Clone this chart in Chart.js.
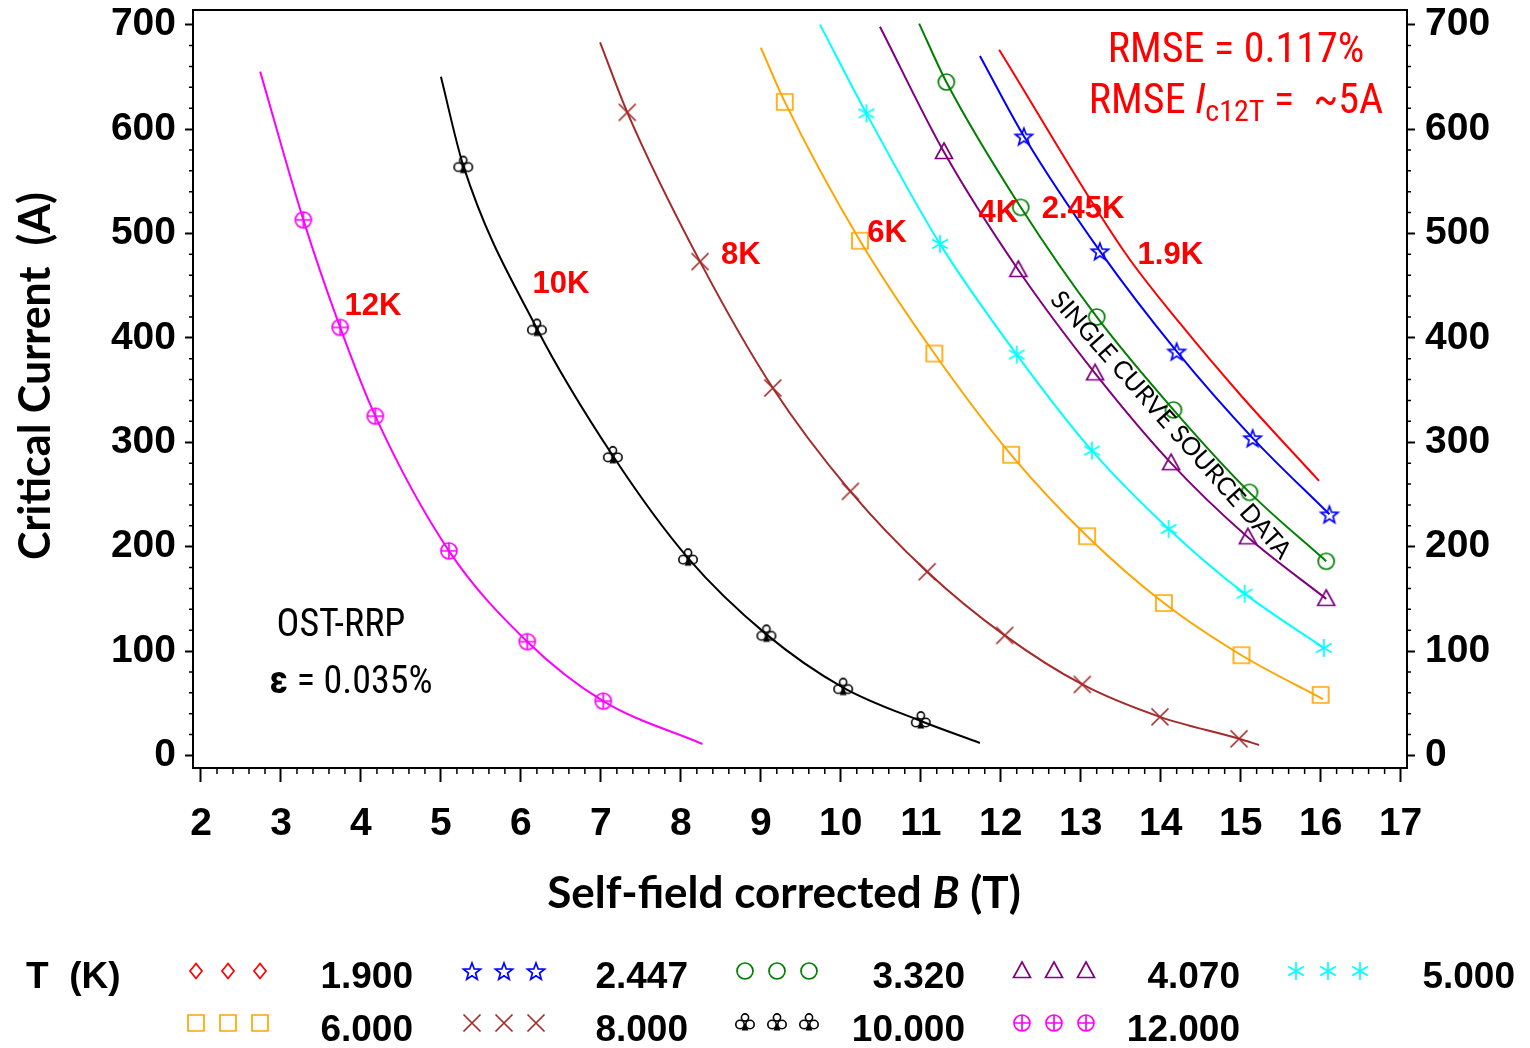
<!DOCTYPE html>
<html>
<head>
<meta charset="utf-8">
<title>Critical current vs self-field corrected B</title>
<script src="https://cdn.jsdelivr.net/npm/chart.js@4.4.1/dist/chart.umd.min.js"></script>
<style>
  html, body { margin: 0; padding: 0; background: #fff; }
  #wrap { position: relative; width: 1530px; height: 1048px; }
</style>
</head>
<body>
<div id="wrap"><canvas id="myChart" width="1530" height="1048"></canvas></div>
<script>
// Axis ticks
var xTicks = [2, 3, 4, 5, 6, 7, 8, 9, 10, 11, 12, 13, 14, 15, 16, 17];
var yTicks = [0, 100, 200, 300, 400, 500, 600, 700];

// Legend labels: T (K)
var tempLabels = ['1.900', '2.447', '3.320', '4.070', '5.000', '6.000', '8.000', '10.000', '12.000'];

// Measured points: self-field corrected B (T) and Ic (A)
var b2447 = [12.29, 13.24, 14.20, 15.15, 16.11];
var ic2447 = [593, 483, 387, 304, 231];
var b3320 = [11.32, 12.25, 13.20, 14.16, 15.11, 16.07];
var ic3320 = [645, 525, 420, 331, 252, 186];
var b4070 = [11.29, 12.22, 13.18, 14.13, 15.09, 16.07];
var ic4070 = [578, 465, 366, 280, 209, 150];
var b5 = [10.32, 11.24, 12.20, 13.14, 14.10, 15.05, 16.04];
var ic5 = [615, 490, 384, 292, 217, 155, 103];
var b6 = [9.30, 10.24, 11.17, 12.13, 13.08, 14.04, 15.01, 16.00];
var ic6 = [626, 493, 385, 288, 210, 146, 96, 58];
var b8 = [7.33, 8.24, 9.15, 10.12, 11.08, 12.05, 13.02, 13.99, 14.98];
var ic8 = [616, 473, 352, 253, 176, 115, 68, 37, 16];
var b10 = [5.28, 6.20, 7.15, 8.09, 9.07, 10.03, 11.00];
var ic10 = [565, 409, 287, 189, 116, 65, 33];
var b12 = [3.28, 3.74, 4.18, 5.10, 6.08, 7.03];
var ic12 = [513, 410, 325, 196, 109, 52];

// Fitted curves
var fitB1900 = [11.98, 13.55, 14.24, 14.99, 15.98];
var fitI1900 = [676, 482, 414, 346, 263];
var fitB2447 = [11.74, 12.29, 13.24, 14.20, 15.15, 16.11];
var fitI2447 = [670, 593, 483, 387, 304, 231];
var fitB3320 = [10.98, 11.32, 12.25, 13.20, 14.16, 15.11, 16.07];
var fitI3320 = [701, 645, 525, 420, 331, 252, 186];
var fitB4070 = [10.49, 11.29, 12.22, 13.18, 14.13, 15.09, 16.07];
var fitI4070 = [698, 578, 465, 366, 280, 209, 150];
var fitB5 = [9.74, 10.32, 11.24, 12.20, 13.14, 14.10, 15.05, 16.04];
var fitI5 = [700, 615, 490, 384, 292, 217, 155, 103];
var fitB6 = [9.00, 9.30, 10.24, 11.17, 12.13, 13.08, 14.04, 15.01, 16.03];
var fitI6 = [678, 626, 493, 385, 288, 210, 146, 96, 54];
var fitB8 = [6.99, 7.33, 8.24, 9.15, 10.12, 11.08, 12.05, 13.02, 13.99, 14.98, 15.23];
var fitI8 = [683, 616, 473, 352, 253, 176, 115, 68, 37, 16, 10];
var fitB10 = [5.00, 5.28, 6.20, 7.15, 8.09, 9.07, 10.03, 11.00, 11.74];
var fitI10 = [650, 565, 409, 287, 189, 116, 65, 33, 12];
var fitB12 = [2.74, 3.28, 3.74, 4.18, 5.10, 6.08, 7.03, 8.27];
var fitI12 = [655, 513, 410, 325, 196, 109, 52, 11];

// Curve labels
var curveLabels = ['12K', '10K', '8K', '6K', '4K', '2.45K', '1.9K'];
var curveLabelB = [4.15, 6.50, 8.75, 10.58, 11.97, 13.03, 14.12];
var curveLabelI = [430, 451, 479, 500, 519, 523, 479];

var tickFont = '"Liberation Sans", Arial, sans-serif';
var narrowFont = '"Liberation Sans Narrow", "Roboto Condensed", Roboto, sans-serif';
var titleFont = 'Lato, "Open Sans", sans-serif';

function pts(bs, is) {
    return bs.map(function (b, i) { return { x: b, y: is[i] }; });
}

// Small canvases used as point styles
function makeMarker(kind, color) {
    var c = document.createElement('canvas');
    c.width = 26; c.height = 26;
    var g = c.getContext('2d');
    g.translate(13, 13);
    g.strokeStyle = color; g.fillStyle = color; g.lineWidth = 1.7;
    g.beginPath();
    switch (kind) {
        case 'diamond':
            g.moveTo(0, -7.5); g.lineTo(6, 0); g.lineTo(0, 7.5); g.lineTo(-6, 0); g.closePath(); g.stroke();
            break;
        case 'star':
            for (var i = 0; i < 10; i++) {
                var r = i % 2 ? 3.8 : 9;
                var a = -Math.PI / 2 + i * Math.PI / 5;
                if (i) g.lineTo(r * Math.cos(a), r * Math.sin(a) + 1); else g.moveTo(r * Math.cos(a), r * Math.sin(a) + 1);
            }
            g.closePath(); g.stroke();
            break;
        case 'circle':
            g.arc(0, 0, 8, 0, 2 * Math.PI); g.stroke();
            break;
        case 'triangle':
            g.moveTo(0, -9); g.lineTo(8.5, 6.5); g.lineTo(-8.5, 6.5); g.closePath(); g.stroke();
            break;
        case 'asterisk':
            for (var k = 0; k < 3; k++) {
                var an = Math.PI / 2 + k * Math.PI / 3;
                g.moveTo(-9 * Math.cos(an), -9 * Math.sin(an)); g.lineTo(9 * Math.cos(an), 9 * Math.sin(an));
            }
            g.stroke();
            break;
        case 'square':
            g.rect(-8, -8, 16, 16); g.stroke();
            break;
        case 'cross':
            g.moveTo(-8.5, -8.5); g.lineTo(8.5, 8.5); g.moveTo(8.5, -8.5); g.lineTo(-8.5, 8.5); g.stroke();
            break;
        case 'club':
            g.lineWidth = 1.6;
            g.arc(0, -5.5, 3.6, 0, 2 * Math.PI); g.stroke();
            g.beginPath(); g.arc(-5, 1.5, 4.2, 0, 2 * Math.PI); g.stroke();
            g.beginPath(); g.arc(5, 1.5, 4.2, 0, 2 * Math.PI); g.stroke();
            g.beginPath(); g.moveTo(0, 0); g.lineTo(-3.5, 7.5); g.lineTo(3.5, 7.5); g.closePath(); g.fill();
            break;
        case 'circplus':
            g.arc(0, 0, 8, 0, 2 * Math.PI);
            g.moveTo(-8, 0); g.lineTo(8, 0); g.moveTo(0, -8); g.lineTo(0, 8); g.stroke();
            break;
    }
    return c;
}

var seriesCfg = [
    { color: '#ff0000', marker: 'diamond', fb: fitB1900, fi: fitI1900, b: [], ic: [] },
    { color: '#0000ff', marker: 'star', fb: fitB2447, fi: fitI2447, b: b2447, ic: ic2447 },
    { color: '#008000', marker: 'circle', fb: fitB3320, fi: fitI3320, b: b3320, ic: ic3320 },
    { color: '#800080', marker: 'triangle', fb: fitB4070, fi: fitI4070, b: b4070, ic: ic4070 },
    { color: '#00ffff', marker: 'asterisk', fb: fitB5, fi: fitI5, b: b5, ic: ic5 },
    { color: '#ffa500', marker: 'square', fb: fitB6, fi: fitI6, b: b6, ic: ic6 },
    { color: '#a52a2a', marker: 'cross', fb: fitB8, fi: fitI8, b: b8, ic: ic8 },
    { color: '#000000', marker: 'club', fb: fitB10, fi: fitI10, b: b10, ic: ic10 },
    { color: '#ff00ff', marker: 'circplus', fb: fitB12, fi: fitI12, b: b12, ic: ic12 }
];

var datasets = [];
seriesCfg.forEach(function (s, i) {
    s.img = makeMarker(s.marker, s.color);
    datasets.push({
        label: tempLabels[i] + ' fit',
        data: pts(s.fb, s.fi),
        showLine: true,
        borderColor: s.color,
        borderWidth: 2,
        pointRadius: 0,
        cubicInterpolationMode: 'monotone',
        order: 1
    });
    datasets.push({
        label: tempLabels[i],
        data: pts(s.b, s.ic),
        showLine: false,
        pointStyle: s.img,
        pointRadius: 9,
        order: 0
    });
});

// Draw a line made of differently styled pieces
function drawRuns(ctx, runs, x, y, align) {
    var total = 0;
    runs.forEach(function (r) { ctx.font = r.font; r.w = ctx.measureText(r.text).width; total += r.w; });
    var cx = align === 'center' ? x - total / 2 : x;
    ctx.textAlign = 'left';
    runs.forEach(function (r) {
        ctx.font = r.font;
        ctx.fillText(r.text, cx, y + (r.dy || 0));
        cx += r.w;
    });
}

var decor = {
    id: 'decor',
    afterDraw: function (chart) {
        var ctx = chart.ctx, a = chart.chartArea;
        var xs = chart.scales.x, ys = chart.scales.y;
        ctx.save();

        // top border of the box
        ctx.strokeStyle = '#000';
        ctx.lineWidth = 2;
        ctx.beginPath();
        ctx.moveTo(a.left - 1, a.top); ctx.lineTo(a.right + 1, a.top);
        ctx.stroke();

        // minor ticks
        ctx.lineWidth = 1.5;
        ctx.beginPath();
        for (var i = 0; i <= 75; i++) {
            if (i % 5 === 0) continue;
            var px = xs.getPixelForValue(2 + i * 0.2);
            ctx.moveTo(px, a.bottom); ctx.lineTo(px, a.bottom + 6);
        }
        for (var j = 0; j <= 35; j++) {
            if (j % 5 === 0) continue;
            var py = ys.getPixelForValue(j * 20);
            ctx.moveTo(a.left, py); ctx.lineTo(a.left - 4, py);
            ctx.moveTo(a.right, py); ctx.lineTo(a.right + 4, py);
        }
        ctx.stroke();

        // curve labels
        ctx.fillStyle = '#ff0000';
        ctx.textBaseline = 'middle';
        ctx.textAlign = 'center';
        ctx.font = 'bold 31px ' + tickFont;
        curveLabels.forEach(function (t, k) {
            ctx.fillText(t, xs.getPixelForValue(curveLabelB[k]), ys.getPixelForValue(curveLabelI[k]));
        });

        // RMSE notes
        ctx.font = '42px ' + narrowFont;
        ctx.fillText('RMSE = 0.117%', 1236, 51);
        drawRuns(ctx, [
            { text: 'RMSE ', font: '42px ' + narrowFont },
            { text: 'I', font: 'italic 42px ' + narrowFont },
            { text: 'c12T', font: '30px ' + narrowFont, dy: 11 },
            { text: ' =  ~5A', font: '42px ' + narrowFont }
        ], 1236, 102, 'center');

        // conductor note
        ctx.fillStyle = '#000';
        ctx.textAlign = 'center';
        ctx.font = '38px ' + narrowFont;
        ctx.fillText('OST-RRP', 341, 626);
        drawRuns(ctx, [
            { text: '\u03b5', font: 'bold 38px ' + narrowFont },
            { text: ' = 0.035%', font: '38px ' + narrowFont }
        ], 351, 683, 'center');

        // rotated note along the curves
        ctx.save();
        ctx.translate(1171, 425);
        ctx.rotate(48.4 * Math.PI / 180);
        ctx.textAlign = 'center';
        ctx.font = '25px ' + titleFont;
        ctx.fillText('SINGLE CURVE SOURCE DATA', 0, 0);
        ctx.restore();

        // axis titles
        ctx.save();
        ctx.translate(36, 376);
        ctx.rotate(-Math.PI / 2);
        ctx.textAlign = 'center';
        ctx.font = 'bold 43px ' + titleFont;
        ctx.fillText('Critical Current  (A)', 0, 0);
        ctx.restore();

        drawRuns(ctx, [
            { text: 'Self-field corrected ', font: 'bold 44px ' + titleFont },
            { text: 'B', font: 'italic bold 44px ' + titleFont },
            { text: ' (T)', font: 'bold 44px ' + titleFont }
        ], 784, 894, 'center');

        // legend
        ctx.font = 'bold 37px ' + tickFont;
        ctx.textAlign = 'left';
        ctx.fillText('T  (K)', 26, 978);
        var colMarkX = [196, 472, 745, 1022, 1296];
        var colTextX = [413, 688, 965, 1240, 1515];
        var rowTextY = [978, 1031];
        var rowMarkY = [971, 1023];
        seriesCfg.forEach(function (s, n) {
            var row = n < 5 ? 0 : 1, col = n % 5;
            for (var m = 0; m < 3; m++) {
                ctx.drawImage(s.img, colMarkX[col] + m * 32 - 13, rowMarkY[row] - 13);
            }
            ctx.textAlign = 'right';
            ctx.fillText(tempLabels[n], colTextX[col], rowTextY[row]);
        });

        ctx.restore();
    }
};

function yScale(pos, w, pad) {
    return {
        type: 'linear',
        position: pos,
        min: -12,
        max: 714,
        afterBuildTicks: function (s) { s.ticks = yTicks.map(function (v) { return { value: v }; }); },
        afterFit: function (s) { s.width = w; s.paddingTop = 0; s.paddingBottom = 0; },
        grid: { drawOnChartArea: false, drawTicks: true, tickLength: 8, tickWidth: 2, tickColor: '#000' },
        border: { display: true, color: '#000', width: 2 },
        ticks: { color: '#000', padding: pad, font: { family: tickFont, size: 39, weight: 'bold' } }
    };
}

var ctx = document.getElementById('myChart').getContext('2d');
var myChart = new Chart(ctx, {
    type: 'scatter',
    data: { datasets: datasets },
    options: {
        responsive: false,
        animation: false,
        layout: { padding: { top: 7, left: 0, right: 0, bottom: 0 } },
        plugins: { legend: { display: false }, tooltip: { enabled: false } },
        scales: {
            x: {
                type: 'linear',
                position: 'bottom',
                min: 1.9,
                max: 17.08,
                afterBuildTicks: function (s) { s.ticks = xTicks.map(function (v) { return { value: v }; }); },
                afterFit: function (s) { s.height = 280; s.paddingLeft = 0; s.paddingRight = 0; },
                grid: { drawOnChartArea: false, drawTicks: true, tickLength: 14, tickWidth: 2, tickColor: '#000' },
                border: { display: true, color: '#000', width: 2 },
                ticks: { color: '#000', padding: 19, maxRotation: 0, autoSkip: false, font: { family: tickFont, size: 39, weight: 'bold' } }
            },
            y: yScale('left', 193, 9),
            y2: yScale('right', 123, 10)
        }
    },
    plugins: [decor]
});
</script>
</body>
</html>
